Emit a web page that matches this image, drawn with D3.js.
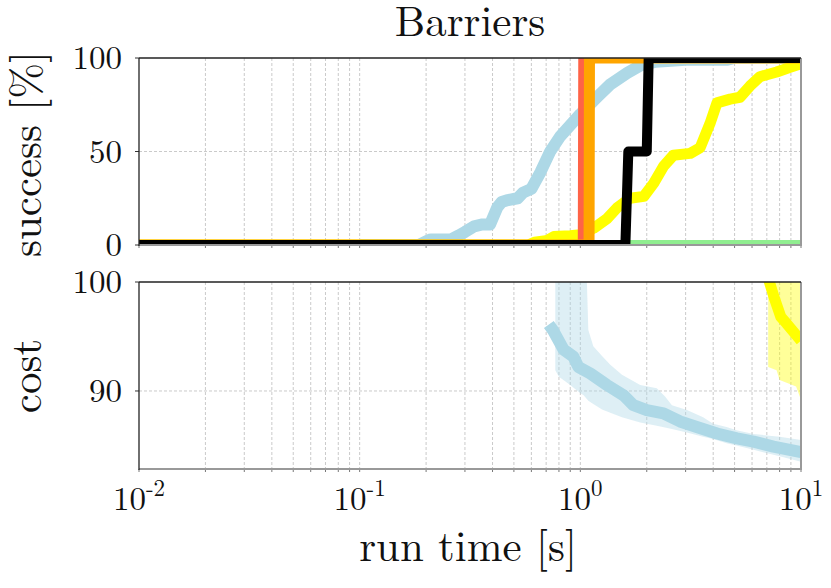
<!DOCTYPE html>
<html>
<head>
<meta charset="utf-8">
<script src="https://cdn.jsdelivr.net/npm/d3@7"></script>
<style>
  body { margin: 0; background: #fff; }
  svg { display: block; }
</style>
</head>
<body>
<svg id="chart" width="831" height="588"></svg>
<script>
// run time [s] on a log axis, success [%] on top, cost below
const xDecades = [0.01, 0.1, 1, 10];
const xTickLabels = ["-2", "-1", "0", "1"];
const successTicks = [0, 50, 100];
const costTicks = [90, 100];

// success curves: [time, percent]
const successBlack  = [[0.01, 0], [1.6, 0], [1.65, 50], [2.0, 50], [2.04, 100], [10, 100]];
const successRed    = [[0.01, 0], [1.01, 0], [1.015, 100], [10, 100]];
const successOrange = [[0.01, 0], [1.095, 0], [1.1, 100], [10, 100]];
const successGreen  = [[0.01, 0], [10, 0]];
const successBlue = [
  [0.1, 0], [0.185, 0], [0.2, 2], [0.21, 3], [0.26, 3], [0.28, 5], [0.3, 7], [0.33, 10],
  [0.36, 11], [0.39, 11], [0.42, 20], [0.44, 23], [0.47, 24], [0.52, 25], [0.55, 28],
  [0.6, 30], [0.66, 39], [0.73, 50], [0.81, 58], [0.9, 64], [1.0, 70], [1.19, 79],
  [1.37, 86], [1.63, 92], [1.87, 96], [2.2, 98], [3.0, 99], [4.6, 99], [5.0, 100], [10, 100]
];
const successYellow = [
  [0.01, 0], [0.58, 0], [0.62, 1.5], [0.71, 2.5], [0.76, 4.5], [0.9, 5], [1.0, 5.5],
  [1.15, 9], [1.32, 14], [1.47, 20], [1.68, 25], [1.94, 26], [2.15, 33], [2.38, 42],
  [2.64, 48], [3.15, 49], [3.49, 52], [3.87, 65], [4.16, 76], [4.77, 78], [5.29, 79],
  [5.87, 85], [6.51, 90], [7.76, 92.5], [8.92, 95], [10, 97]
];

// cost medians: [time, cost]
const costBlue = [
  [0.72, 96.1], [0.75, 95.6], [0.84, 93.8], [0.93, 93.15], [0.98, 92.2], [1.11, 91.6],
  [1.32, 90.55], [1.57, 89.6], [1.74, 88.7], [2.0, 88.25], [2.38, 87.95],
  [2.83, 87.2], [3.37, 86.7], [4.16, 86.1], [5.12, 85.65], [6.1, 85.35], [7.5, 84.9], [10, 84.4]
];
const costYellow = [[6.9, 101.2], [7.55, 98.6], [8.1, 96.8], [8.6, 96.2], [10, 94.6]];

// cost spread: [time, low, high]
const bandBlue = [
  [0.77, 91.9, 110], [0.8, 91.3, 110], [0.9, 90.55, 110], [1.0, 89.8, 110], [1.035, 89.6, 110],
  [1.087, 89.1, 95.6], [1.145, 88.8, 94.1], [1.254, 88.3, 93.2], [1.367, 88.0, 92.4],
  [1.544, 87.6, 91.5], [1.868, 87.1, 90.55], [2.22, 86.8, 90.25], [2.42, 86.65, 89.5],
  [2.6, 86.5, 88.7], [3.04, 86.2, 88.25], [3.6, 85.8, 87.6], [4.0, 85.6, 87.0], [4.6, 85.2, 86.7],
  [5.1, 85.0, 86.4], [6.1, 84.6, 86.05], [8.0, 84.0, 85.8], [10, 83.5, 85.5]
];
const bandYellow = [[7.1, 92.2, 110], [7.75, 91.9, 110], [8.0, 91.0, 110], [9.5, 90.4, 110], [10, 89.2, 110]];

const FONT = '"Latin Modern Roman", "Liberation Serif", serif';
const svg = d3.select("#chart");
const left = 139, right = 801;

const x = d3.scaleLog().domain([0.01, 10]).range([left, right]);
const ySuccess = d3.scaleLinear().domain([0, 100]).range([245, 58]);
const yCost = d3.scaleLinear().domain([82.84, 100]).range([469, 282]);

// minor positions 1..9 per decade
const xGrid = [];
for (const d of xDecades.slice(0, 3)) for (let k = 1; k <= 9; k++) xGrid.push(d * k);
xGrid.push(10);

function panel(id, y, yTicks) {
  const top = y.range()[1], bottom = y.range()[0];
  const g = svg.append("g");
  g.append("clipPath").attr("id", id).append("rect")
    .attr("x", left).attr("y", top).attr("width", right - left).attr("height", bottom - top);

  // dashed grid
  g.append("g").selectAll("line").data(xGrid.filter(v => v > 0.01 && v < 10)).join("line")
    .attr("x1", d => x(d)).attr("x2", d => x(d)).attr("y1", top).attr("y2", bottom)
    .attr("stroke", "#bdbdbd").attr("stroke-width", 0.8).attr("stroke-dasharray", "3,2");
  g.append("g").selectAll("line").data(yTicks.filter(v => y(v) > top + 1 && y(v) < bottom - 1)).join("line")
    .attr("x1", left).attr("x2", right).attr("y1", d => y(d)).attr("y2", d => y(d))
    .attr("stroke", "#bdbdbd").attr("stroke-width", 0.8).attr("stroke-dasharray", "3,2");

  // tick marks
  g.append("g").selectAll("line").data(xGrid).join("line")
    .attr("x1", d => x(d)).attr("x2", d => x(d)).attr("y1", bottom).attr("y2", bottom + 3)
    .attr("stroke", "#777").attr("stroke-width", 1);
  g.append("g").selectAll("line").data(yTicks).join("line")
    .attr("x1", left - 4).attr("x2", left).attr("y1", d => y(d)).attr("y2", d => y(d))
    .attr("stroke", "#333").attr("stroke-width", 1);

  // y tick labels
  g.append("g").selectAll("text").data(yTicks).join("text")
    .attr("x", 122).attr("y", d => y(d)).attr("dy", "0.34em")
    .attr("text-anchor", "end").attr("font-size", 33).attr("fill", "#111")
    .style("font-family", FONT)
    .text(d => d);

  const plot = g.append("g").attr("clip-path", `url(#${id})`);
  return { g, plot, top, bottom };
}

function frame(p) {
  p.g.append("line").attr("x1", left).attr("x2", right).attr("y1", p.bottom).attr("y2", p.bottom)
    .attr("stroke", "#999").attr("stroke-width", 2);
  p.g.append("line").attr("x1", right).attr("x2", right).attr("y1", p.top).attr("y2", p.bottom + 1)
    .attr("stroke", "#999").attr("stroke-width", 2);
  p.g.append("line").attr("x1", left).attr("x2", right).attr("y1", p.top).attr("y2", p.top)
    .attr("stroke", "#222").attr("stroke-width", 1.3);
  p.g.append("line").attr("x1", left).attr("x2", left).attr("y1", p.top).attr("y2", p.bottom + 1)
    .attr("stroke", "#222").attr("stroke-width", 1.3);
}

// top panel
const pTop = panel("clipTop", ySuccess, successTicks);
const lineS = d3.line().x(d => x(d[0])).y(d => ySuccess(d[1]));
const series = [
  [successGreen, "#90ee90", 10],
  [successBlue, "#add8e6", 12],
  [successYellow, "#ffff00", 11],
  [successRed, "#ff6347", 7],
  [successOrange, "#ffa500", 11],
  [successBlack, "#000000", 10]
];
for (const [data, color, w] of series) {
  pTop.plot.append("path").attr("d", lineS(data))
    .attr("fill", "none").attr("stroke", color).attr("stroke-width", w)
    .attr("stroke-linejoin", "round");
}
frame(pTop);

// bottom panel
const pBot = panel("clipBot", yCost, costTicks);
const areaC = d3.area().x(d => x(d[0])).y0(d => yCost(d[1])).y1(d => yCost(d[2]));
const lineC = d3.line().x(d => x(d[0])).y(d => yCost(d[1]));
pBot.plot.append("path").attr("d", areaC(bandBlue)).attr("fill", "#add8e6").attr("fill-opacity", 0.4);
pBot.plot.append("path").attr("d", areaC(bandYellow)).attr("fill", "#ffff00").attr("fill-opacity", 0.4);
pBot.plot.append("path").attr("d", lineC(costBlue))
  .attr("fill", "none").attr("stroke", "#add8e6").attr("stroke-width", 12).attr("stroke-linejoin", "round");
pBot.plot.append("path").attr("d", lineC(costYellow))
  .attr("fill", "none").attr("stroke", "#ffff00").attr("stroke-width", 11).attr("stroke-linejoin", "round");
frame(pBot);

// x tick labels 10^k
const xl = svg.append("g").selectAll("text").data(xDecades).join("text")
  .attr("x", d => x(d)).attr("y", 510).attr("text-anchor", "middle")
  .attr("font-size", 33).attr("fill", "#111")
  .style("font-family", FONT);
xl.append("tspan").text("10");
xl.append("tspan").attr("dy", -14).attr("font-size", 23)
  .text((d, i) => xTickLabels[i]);

// titles
function label(txt, transform) {
  svg.append("text").attr("transform", transform).attr("text-anchor", "middle")
    .attr("font-size", 43).attr("fill", "#111")
    .style("font-family", FONT).text(txt);
}
label("Barriers", "translate(470,36)");
label("run time [s]", "translate(468,561)");
label("success [%]", "translate(41,154) rotate(-90)");
label("cost", "translate(41,376) rotate(-90)");
</script>
</body>
</html>
